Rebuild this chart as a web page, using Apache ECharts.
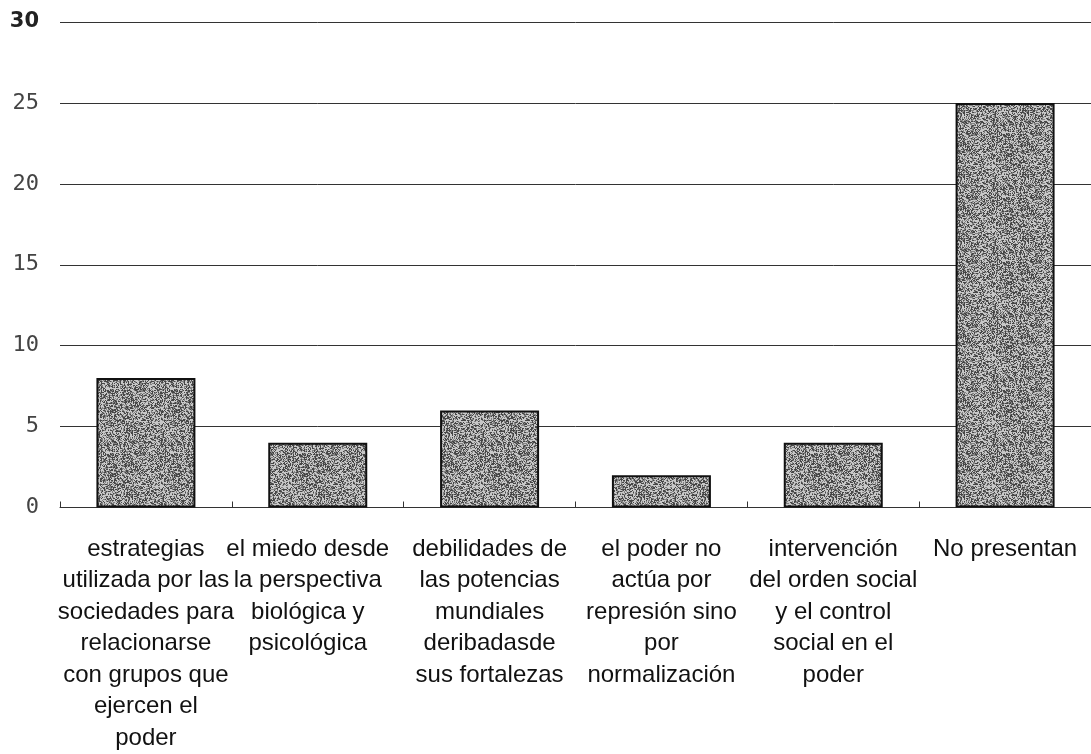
<!DOCTYPE html>
<html>
<head>
<meta charset="utf-8">
<script src="https://cdn.jsdelivr.net/npm/echarts@6/dist/echarts.min.js"></script>
<style>
  html, body { margin: 0; padding: 0; background: #fff; }
  #main { width: 1091px; height: 754px; }
</style>
</head>
<body>
<div id="main"></div>
<script>
// categorias (con saltos de linea como en la imagen)
var categories = [
    'estrategias\nutilizada por las\nsociedades para\nrelacionarse\ncon grupos que\nejercen el\npoder',
    'el miedo desde\nla perspectiva\nbiológica y\npsicológica',
    'debilidades de\nlas potencias\nmundiales\nderibadasde\nsus fortalezas',
    'el poder no\nactúa por\nrepresión sino\npor\nnormalización',
    'intervención\ndel orden social\ny el control\nsocial en el\npoder',
    'No presentan'
];
var values = [8, 4, 6, 2, 4, 25];
var yTicks = [0, 5, 10, 15, 20, 25, 30];

// textura gris tipo fotocopia para las barras
function makeTexture() {
    var size = 64;
    var c = document.createElement('canvas');
    c.width = size;
    c.height = size;
    var ctx = c.getContext('2d');
    var img = ctx.createImageData(size, size);
    var h = 12345;
    for (var i = 0; i < size * size; i++) {
        h = (h * 1103515245 + 12345) & 0x7fffffff;
        var g = (h >> 8) % 256;
        var v = g > 150 ? 200 : (g > 80 ? 130 : 70);
        img.data[i * 4] = v;
        img.data[i * 4 + 1] = v;
        img.data[i * 4 + 2] = v;
        img.data[i * 4 + 3] = 255;
    }
    ctx.putImageData(img, 0, 0);
    return c;
}

var chart = echarts.init(document.getElementById('main'));

var option = {
    animation: false,
    grid: {
        left: 60,
        top: 22,
        width: 1040,
        bottom: 246
    },
    xAxis: {
        type: 'category',
        data: categories.map(function (c, i) {
            // la segunda etiqueta esta un poco a la izquierda en el original
            if (i === 1) {
                return { value: c, textStyle: { padding: [0, 20, 0, 0] } };
            }
            return c;
        }),
        axisLine: { lineStyle: { color: '#333', width: 1 } },
        axisTick: {
            show: true,
            inside: true,
            length: 6,
            lineStyle: { color: '#333' }
        },
        axisLabel: {
            interval: 0,
            margin: 26,
            color: '#111',
            fontFamily: 'Liberation Sans, Arial, sans-serif',
            fontSize: 24,
            lineHeight: 31.5,
            hideOverlap: false
        }
    },
    yAxis: {
        type: 'value',
        min: yTicks[0],
        max: yTicks[yTicks.length - 1],
        interval: 5,
        axisLine: { show: false },
        axisTick: { show: false },
        splitLine: { lineStyle: { color: '#333', width: 1 } },
        axisLabel: {
            margin: 21,
            color: '#444',
            fontFamily: 'DejaVu Sans Mono, monospace',
            fontSize: 22,
            formatter: function (v) {
                return v === 30 ? '{b|' + v + '}' : String(v);
            },
            rich: {
                b: {
                    fontFamily: 'DejaVu Sans, sans-serif',
                    fontWeight: 'bold',
                    fontSize: 21,
                    color: '#222'
                }
            }
        }
    },
    series: [{
        type: 'bar',
        data: values,
        barWidth: 99,
        itemStyle: {
            color: { image: makeTexture(), repeat: 'repeat' },
            borderColor: '#111',
            borderWidth: 2
        }
    }]
};

chart.setOption(option);
</script>
</body>
</html>
